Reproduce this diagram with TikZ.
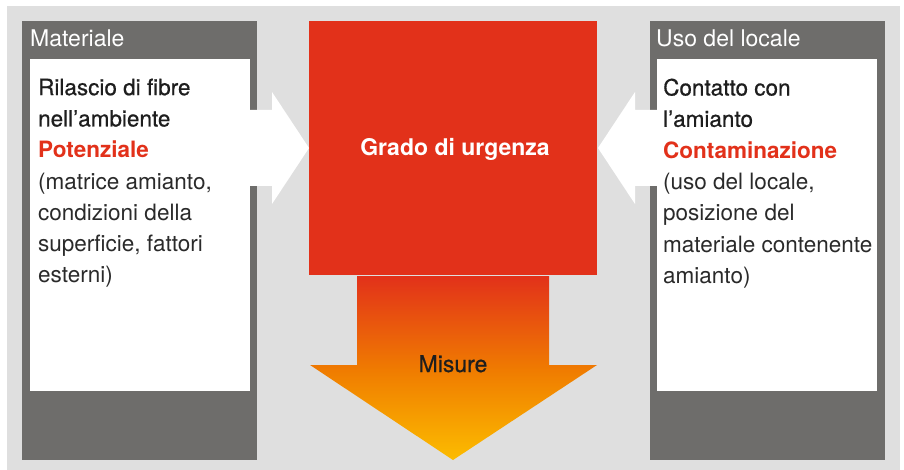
\documentclass[tikz,border=0pt]{standalone}
\usepackage{fontspec}
\setmainfont{TeX Gyre Heros}
\newfontfamily\mediumface[FakeBold=0.6]{TeX Gyre Heros}
\definecolor{bggray}{HTML}{DFDFDF}
\definecolor{panelgray}{HTML}{6E6D6B}
\definecolor{urgred}{HTML}{E2311A}
\definecolor{midorange}{HTML}{F07D00}
\definecolor{tipyellow}{HTML}{FCBC00}
\definecolor{bodytext}{HTML}{1E1E1E}
\definecolor{softtext}{HTML}{2A2A2A}
\pgfdeclareverticalshading{misureshade}{100bp}{color(0bp)=(tipyellow); color(25bp)=(tipyellow); color(49bp)=(midorange); color(75bp)=(urgred); color(100bp)=(urgred)}
\begin{document}
\begin{tikzpicture}[x=1pt,y=-1pt,
  paneltitle/.style={anchor=base west,inner sep=0pt,text=white,font=\fontsize{23}{27}\selectfont},
  bodyblock/.style={anchor=north west,inner sep=0pt,align=left,text=softtext,font=\fontsize{22.5}{31.3}\selectfont},
  whitearrow/.style={fill=white,draw=none}]
\useasboundingbox (0,0) rectangle (904,470);
\fill[bggray] (7,6) rectangle (900,470);
% left panel
\fill[panelgray] (22,21) rectangle (257,460);
\fill[white] (30,59) rectangle (250,391);
\node[paneltitle] (mattitle) at (30,47) {Materiale};
\node[bodyblock] (matbody) at (38,78.5) {{\mediumface\color{bodytext}Rilascio di fibre}\\{\mediumface\color{bodytext}nell’ambiente}\\\textcolor{urgred}{\bfseries Potenziale}\\(matrice amianto,\\condizioni della\\superficie, fattori\\esterni)};
% right panel
\fill[panelgray] (650,21) rectangle (885,460);
\fill[white] (657,59) rectangle (877,391);
\node[paneltitle] (usotitle) at (656,47) {Uso del locale};
\node[bodyblock] (usobody) at (663,78.5) {{\mediumface\color{bodytext}Contatto con}\\{\mediumface\color{bodytext}l’amianto}\\\textcolor{urgred}{\bfseries Contaminazione}\\(uso del locale,\\posizione del\\materiale contenente\\amianto)};
% centre
\fill[urgred] (309,21) rectangle (597,275);
\node[anchor=base,inner sep=0pt,text=white,font=\bfseries\fontsize{23}{27}\selectfont] (grado) at (455,156) {Grado di urgenza};
% side arrows
\fill[whitearrow] (250,110) -- (272,110) -- (272,92) -- (309,148) -- (272,204) -- (272,186) -- (250,186) -- cycle;
\fill[whitearrow] (657,110) -- (635,110) -- (635,92) -- (598,148) -- (635,204) -- (635,186) -- (657,186) -- cycle;
% down arrow
\shade[shading=misureshade] (357,276) -- (549,276) -- (549,365) -- (597,365) -- (453,460) -- (310,365) -- (357,365) -- cycle;
\node[anchor=base,inner sep=0pt,text=bodytext,font=\mediumface\fontsize{23}{27}\selectfont] (misure) at (453,372) {Misure};
\end{tikzpicture}
\end{document}
